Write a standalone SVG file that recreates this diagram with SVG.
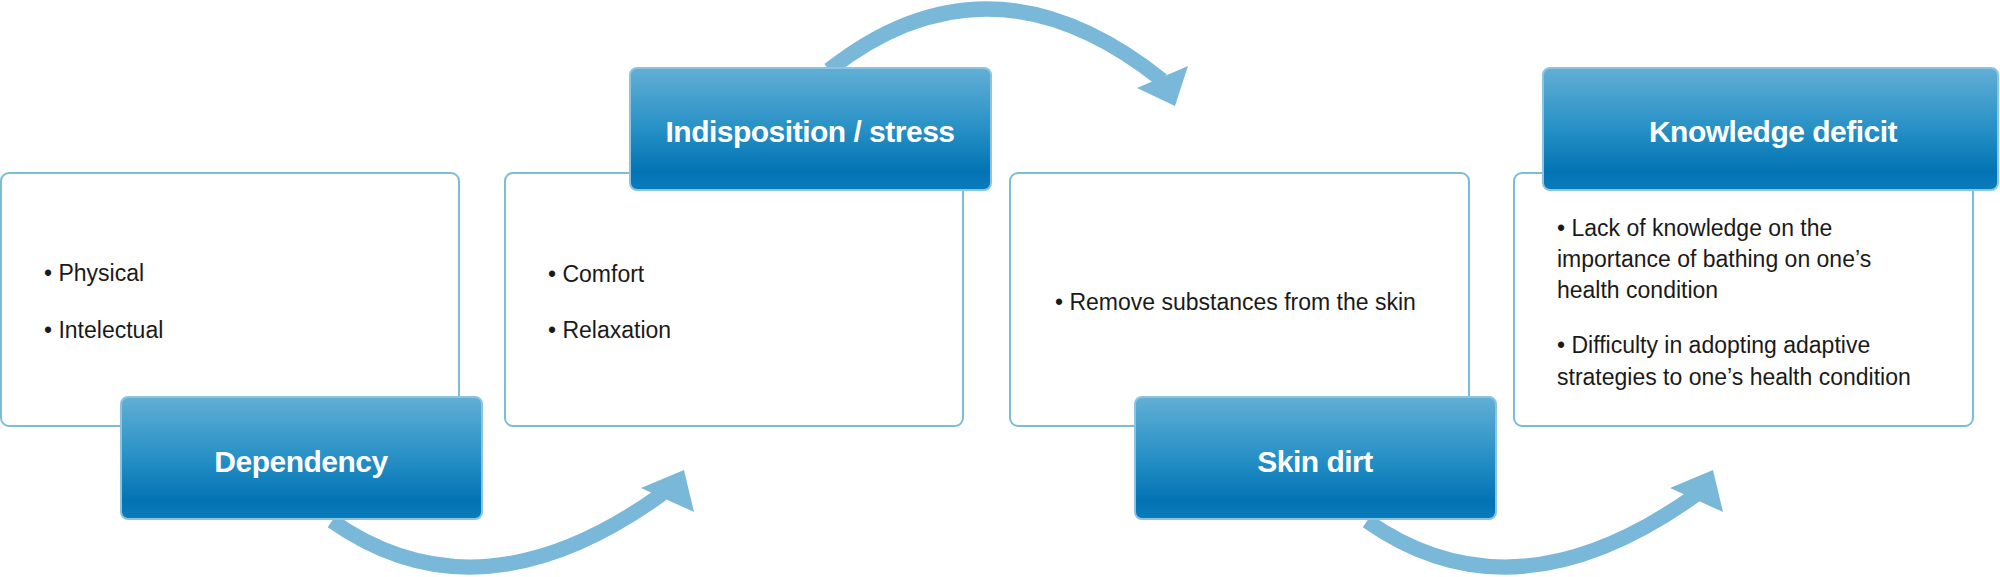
<svg xmlns="http://www.w3.org/2000/svg" width="2000" height="577" viewBox="0 0 2000 577">
<defs>
<linearGradient id="bg" x1="0" y1="0" x2="0" y2="1">
<stop offset="0" stop-color="#62afd5"/>
<stop offset="0.5" stop-color="#2690c6"/>
<stop offset="0.85" stop-color="#0273b3"/>
<stop offset="1" stop-color="#0a7cbb"/>
</linearGradient>
</defs>
<style>
.card{fill:#fff;stroke:#7dbcd6;stroke-width:2}
.head{fill:url(#bg);stroke:#8cc3df;stroke-width:2}
.ht{font-family:"Liberation Sans",Arial,sans-serif;font-weight:bold;font-size:30px;fill:#fff;text-anchor:middle;letter-spacing:-0.5px}
.bt{font-family:"Liberation Sans",Arial,sans-serif;font-size:23px;fill:#1a1a1a}
.arc{fill:none;stroke:#7ab8da;stroke-width:15}
.ah{fill:#7ab8da}
</style>
<rect width="2000" height="577" fill="#fff"/>
<g id="connectors">
<path class="arc" d="M332,521 Q480,625 662,494"/>
<polygon class="ah" points="641,488 684,470 694,512"/>
<path class="arc" d="M829,70 Q990,-57 1162,80"/>
<polygon class="ah" points="1137,88 1188,66 1175,106"/>
<path class="arc" d="M1367,521 Q1515,625 1697,494"/>
<polygon class="ah" points="1670,488 1713,470 1723,512"/>
</g>
<g id="box-dependency">
<rect class="card" x="1" y="173" width="458" height="253" rx="8"/>
<text class="bt" x="44" y="281">• Physical</text>
<text class="bt" x="44" y="338">• Intelectual</text>
<rect class="head" x="121" y="397" width="361" height="122" rx="7"/>
<text class="ht" x="301" y="472">Dependency</text>
</g>
<g id="box-indisposition">
<rect class="card" x="505" y="173" width="458" height="253" rx="8"/>
<text class="bt" x="548" y="282">• Comfort</text>
<text class="bt" x="548" y="338">• Relaxation</text>
<rect class="head" x="630" y="68" width="361" height="122" rx="7"/>
<text class="ht" x="810" y="142">Indisposition / stress</text>
</g>
<g id="box-skindirt">
<rect class="card" x="1010" y="173" width="459" height="253" rx="8"/>
<text class="bt" x="1055" y="310">• Remove substances from the skin</text>
<rect class="head" x="1135" y="397" width="361" height="122" rx="7"/>
<text class="ht" x="1315" y="472">Skin dirt</text>
</g>
<g id="box-knowledge">
<rect class="card" x="1514" y="173" width="459" height="253" rx="8"/>
<text class="bt" x="1557" y="236">• Lack of knowledge on the</text>
<text class="bt" x="1557" y="267">importance of bathing on one’s</text>
<text class="bt" x="1557" y="298">health condition</text>
<text class="bt" x="1557" y="353">• Difficulty in adopting adaptive</text>
<text class="bt" x="1557" y="385">strategies to one’s health condition</text>
<rect class="head" x="1543" y="68" width="455" height="122" rx="7"/>
<text class="ht" x="1773" y="142">Knowledge deficit</text>
</g>
</svg>
